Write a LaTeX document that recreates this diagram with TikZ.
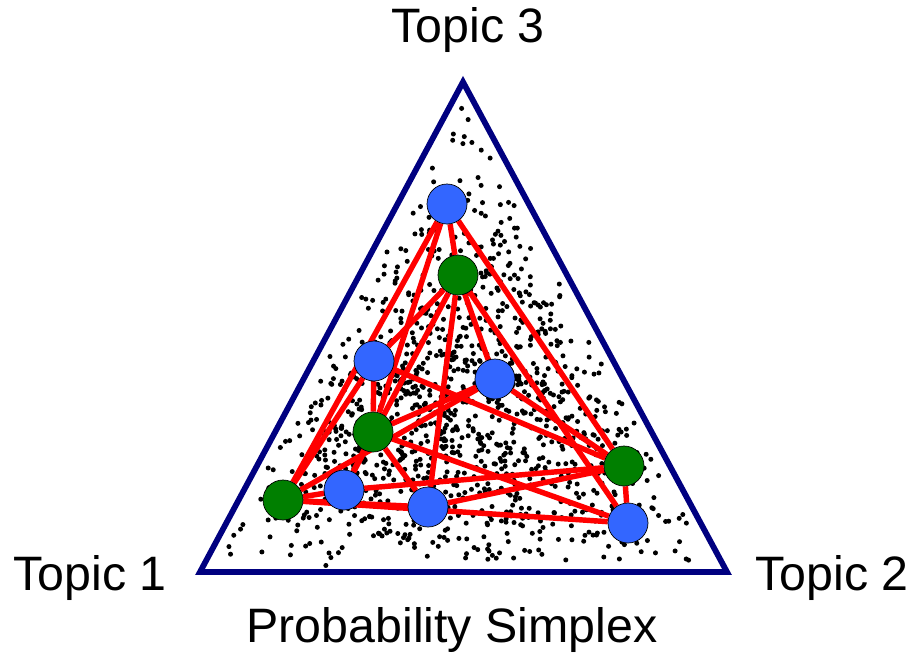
\documentclass[tikz,border=0pt]{standalone}
\usepackage{fontspec}
\setmainfont{Liberation Sans}
\usetikzlibrary{backgrounds}
\definecolor{simplexink}{HTML}{000080}
\definecolor{topicblue}{HTML}{3366FF}
\definecolor{topicgreen}{HTML}{007F00}
\definecolor{linkred}{HTML}{FF0000}
\tikzset{
  bluenode/.style={circle,draw=black,thin,fill=topicblue,minimum size=0.8cm,inner sep=0pt},
  greennode/.style={bluenode,fill=topicgreen},
  link/.style={draw=linkred,line width=3.1pt},
  label/.style={font=\fontsize{27.5}{32}\selectfont,inner sep=0pt},
}

\begin{document}
\begin{tikzpicture}[x=0.02cm,y=-0.02cm]
  \useasboundingbox (0,0) rectangle (910,654);
  % simplex
  \draw[simplexink,line width=3.3pt,line join=miter] (463,82) -- (727,572) -- (200,572) -- cycle;
  \node[label] (t3) at (468,30) {Topic 3};
  \node[label] (t1) at (90,578) {Topic 1};
  \node[label] (t2) at (832,578) {Topic 2};
  \node[label] (ps) at (452,630) {Probability Simplex};
  % documents
  \node[bluenode] (b1) at (447,204) {};
  \node[bluenode] (b2) at (374,361) {};
  \node[bluenode] (b3) at (495,379) {};
  \node[bluenode] (b4) at (344,490) {};
  \node[bluenode] (b5) at (428,507) {};
  \node[bluenode] (b6) at (628,523) {};
  \node[greennode] (g1) at (458,275) {};
  \node[greennode] (g2) at (373,432) {};
  \node[greennode] (g3) at (624,466) {};
  \node[greennode] (g4) at (283,500) {};
  \begin{scope}[on background layer]
    % scattered points, uniform plus a central cluster
    \pgfmathsetseed{7}
    \foreach \i in {1,...,560}{
      \pgfmathsetmacro{\s}{sqrt(rnd)}
      \pgfmathsetmacro{\t}{rnd}
      \pgfmathsetmacro{\px}{463.3+0.93*((1-\s)*463+\s*(1-\t)*200+\s*\t*727-463.3)}
      \pgfmathsetmacro{\py}{408.7+0.93*((1-\s)*82+\s*572-408.7)}
      \fill (\px,\py) circle (2.5);
    }
    \foreach \i in {1,...,640}{
      \pgfmathsetmacro{\s}{sqrt(rnd)}
      \pgfmathsetmacro{\t}{rnd}
      \pgfmathsetmacro{\u}{sqrt(rnd)}
      \pgfmathsetmacro{\v}{rnd}
      \pgfmathsetmacro{\px}{463.3+0.93*(0.5*((1-\s)*463+\s*(1-\t)*200+\s*\t*727+(1-\u)*463+\u*(1-\v)*200+\u*\v*727)-463.3)}
      \pgfmathsetmacro{\py}{408.7+0.93*(0.5*((1-\s)*82+\s*572+(1-\u)*82+\u*572)-408.7)+12}
      \fill (\px,\py) circle (2.5);
    }
    % links between blue and green
    \foreach \g in {g1,g2,g3,g4}{
      \foreach \b in {b1,b2,b3,b4,b5,b6}{
        \draw[link] (\g) -- (\b);
      }
    }
  \end{scope}
\end{tikzpicture}
\end{document}
